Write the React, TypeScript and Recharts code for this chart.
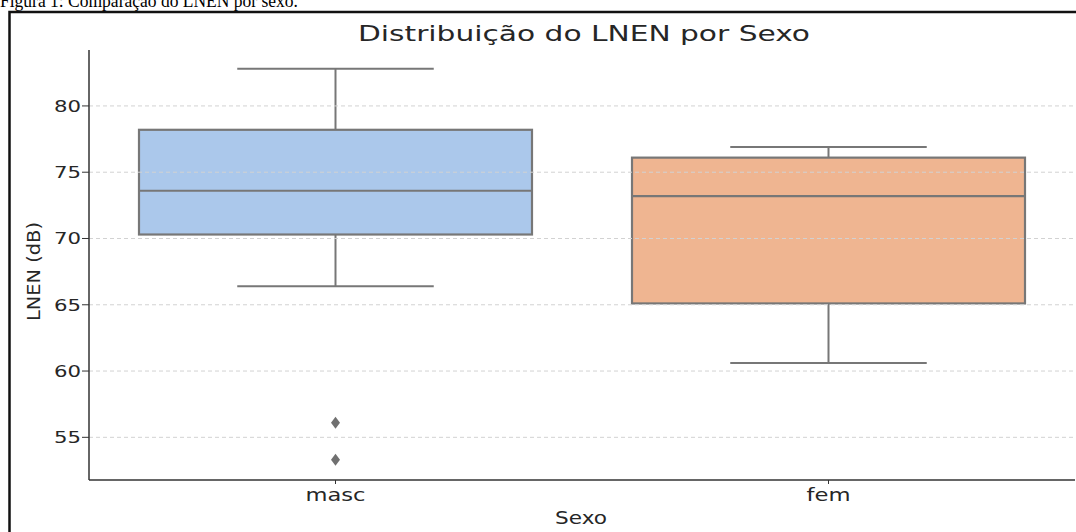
import React from "react";
import {
  ComposedChart,
  Bar,
  Line,
  XAxis,
  YAxis,
  ReferenceLine,
  Label,
} from "recharts";

// values
const categories = ["masc", "fem"];
const whiskerLow = [66.4, 60.6];
const q1 = [70.3, 65.1];
const median = [73.6, 73.2];
const q3 = [78.2, 76.1];
const whiskerHigh = [82.8, 76.9];
const outliersHigh = [56.1, null];
const outliersLow = [53.3, null];
const yTicks = [55, 60, 65, 70, 75, 80];

const BOX_FILL = ["#abc8eb", "#efb591"];
const EDGE = "#777777";
const TEXT = "#262626";

const data = categories.map((c, i) => ({
  sexo: c,
  range: [whiskerLow[i], whiskerHigh[i]],
  q1: q1[i],
  median: median[i],
  q3: q3[i],
  out1: outliersHigh[i],
  out2: outliersLow[i],
  fill: BOX_FILL[i],
}));

const BoxShape = (props: any) => {
  const { x, y, width, height, payload } = props;
  const [lo, hi] = payload.range;
  const top = Math.min(y, y + height);
  const h = Math.abs(height);
  const k = h / (hi - lo);
  const py = (v: number) => top + (hi - v) * k;
  const cx = x + width / 2;
  const cap = width / 4;
  return (
    <g>
      <line x1={cx} x2={cx} y1={py(hi)} y2={py(payload.q3)} stroke={EDGE} strokeWidth={2} />
      <line x1={cx} x2={cx} y1={py(payload.q1)} y2={py(lo)} stroke={EDGE} strokeWidth={2} />
      <line x1={cx - cap} x2={cx + cap} y1={py(hi)} y2={py(hi)} stroke={EDGE} strokeWidth={2} />
      <line x1={cx - cap} x2={cx + cap} y1={py(lo)} y2={py(lo)} stroke={EDGE} strokeWidth={2} />
      <rect
        x={x}
        y={py(payload.q3)}
        width={width}
        height={py(payload.q1) - py(payload.q3)}
        fill={payload.fill}
        stroke={EDGE}
        strokeWidth={2.2}
      />
      <line x1={x} x2={x + width} y1={py(payload.median)} y2={py(payload.median)} stroke={EDGE} strokeWidth={2.2} />
    </g>
  );
};

const Diamond = (props: any) => {
  const { cx, cy, index, dataKey } = props;
  if (cy == null || isNaN(cy)) return <g key={`${dataKey}-${index}`} />;
  return (
    <path
      key={`${dataKey}-${index}`}
      d={`M${cx},${cy - 6} L${cx + 4.5},${cy} L${cx},${cy + 6} L${cx - 4.5},${cy} Z`}
      fill="#707070"
    />
  );
};

const YTick = (props: any) => {
  const { x, y, payload } = props;
  return (
    <text
      x={x}
      y={y}
      dy={6}
      textAnchor="end"
      fontSize={16}
      fill={TEXT}
      fontFamily="DejaVu Sans"
      textLength={27}
      lengthAdjust="spacingAndGlyphs"
    >
      {payload.value}
    </text>
  );
};

const XTick = (props: any) => {
  const { x, y, payload } = props;
  const w = payload.value === "masc" ? 60 : 44;
  return (
    <text
      x={x}
      y={y}
      dy={15}
      textAnchor="middle"
      fontSize={18}
      fill={TEXT}
      fontFamily="DejaVu Sans"
      textLength={w}
      lengthAdjust="spacingAndGlyphs"
    >
      {payload.value}
    </text>
  );
};

export default function App() {
  return (
    <div style={{ position: "absolute", left: 0, top: 0, width: 1076, height: 532, background: "#fff", overflow: "hidden" }}>
      <svg width={1076} height={532} style={{ position: "absolute", left: 0, top: 0 }}>
        <text
          x={0}
          y={7}
          fontSize={18}
          fontFamily="Liberation Serif"
          fill="#000"
          textLength={298}
          lengthAdjust="spacingAndGlyphs"
        >
          Figura 1: Comparação do LNEN por sexo.
        </text>
        <rect x={9.5} y={12} width={1200} height={700} fill="none" stroke="#111" strokeWidth={2.5} />
        <text
          x={584}
          y={41}
          textAnchor="middle"
          fontSize={22}
          fontFamily="DejaVu Sans"
          fill={TEXT}
          textLength={452}
          lengthAdjust="spacingAndGlyphs"
        >
          Distribuição do LNEN por Sexo
        </text>
      </svg>
      <div style={{ position: "absolute", left: 0, top: 0 }}>
        <ComposedChart
          width={1076}
          height={532}
          data={data}
          margin={{ top: 50, right: 1, left: 0, bottom: 0 }}
        >
          <XAxis
            dataKey="sexo"
            height={52}
            axisLine={{ stroke: "#333", strokeWidth: 1.5 }}
            tickLine={{ stroke: "#333" }}
            tickSize={4}
            tick={<XTick />}
          >
            <Label
              content={() => (
                <text
                  x={581}
                  y={524}
                  textAnchor="middle"
                  fontSize={18}
                  fontFamily="DejaVu Sans"
                  fill={TEXT}
                  textLength={52}
                  lengthAdjust="spacingAndGlyphs"
                >
                  Sexo
                </text>
              )}
            />
          </XAxis>
          <YAxis
            width={89}
            type="number"
            domain={[51.78, 84.22]}
            ticks={yTicks}
            allowDataOverflow
            axisLine={{ stroke: "#333", strokeWidth: 1.5 }}
            tickLine={{ stroke: "#333" }}
            tickSize={7}
            tickMargin={1}
            tick={<YTick />}
          >
            <Label
              content={() => (
                <text
                  transform="translate(40,271.5) rotate(-90)"
                  textAnchor="middle"
                  fontSize={18}
                  fontFamily="DejaVu Sans"
                  fill={TEXT}
                  textLength={99}
                  lengthAdjust="spacingAndGlyphs"
                >
                  LNEN (dB)
                </text>
              )}
            />
          </YAxis>
          {yTicks.map((t) => (
            <ReferenceLine key={t} y={t} stroke="#d2d2d2" strokeDasharray="4 3" />
          ))}
          <Bar dataKey="range" barSize={393} shape={<BoxShape />} isAnimationActive={false} />
          <Line dataKey="out1" stroke="none" dot={<Diamond />} activeDot={false} isAnimationActive={false} />
          <Line dataKey="out2" stroke="none" dot={<Diamond />} activeDot={false} isAnimationActive={false} />
        </ComposedChart>
      </div>
    </div>
  );
}
